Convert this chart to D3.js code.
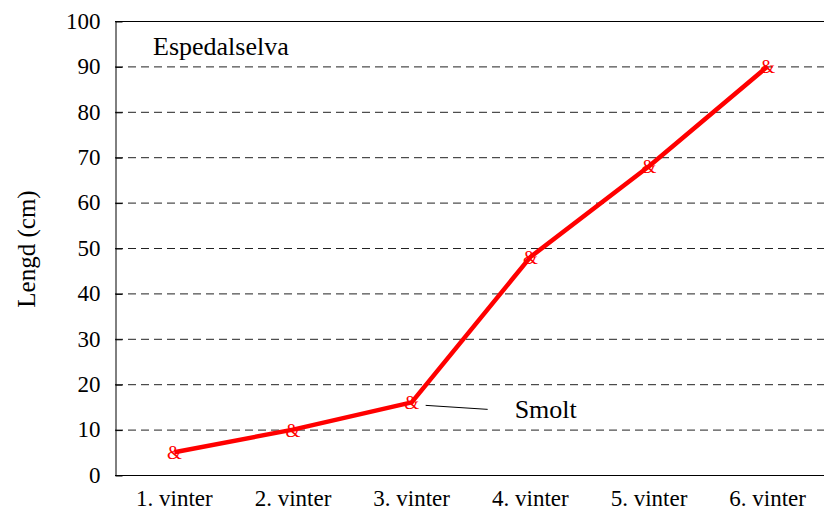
<!DOCTYPE html>
<meta charset="utf-8">
<style>
body { margin: 0; background: #fff; }
.grid line { stroke: #222; stroke-dasharray: 8,5; stroke-width: 1; }
.axis path, .axis line { stroke: #000; }
.axis text { font-size: 23px; }
</style>
<body>
<script src="https://cdnjs.cloudflare.com/ajax/libs/d3/7.8.5/d3.min.js"></script>
<script>
// data
const categories = ["1. vinter", "2. vinter", "3. vinter", "4. vinter", "5. vinter", "6. vinter"];
const lengths = [5, 10, 16, 48, 68, 90];
const yTicks = [0, 10, 20, 30, 40, 50, 60, 70, 80, 90, 100];

const SERIF = "'Liberation Serif', 'Times New Roman', Times, 'DejaVu Serif', serif";

const margin = {top: 21, right: 0, bottom: 35, left: 115},
      width = 824 - margin.left - margin.right,
      height = 510 - margin.top - margin.bottom;

const svg = d3.select("body").append("svg")
    .attr("width", 824)
    .attr("height", 510)
  .append("g")
    .attr("transform", "translate(" + margin.left + "," + margin.top + ")");

const x = d3.scaleBand()
    .domain(categories)
    .range([0, 712]);
const y = d3.scaleLinear()
    .domain([0, 100])
    .range([height, 0]);

// dashed gridlines
svg.append("g")
    .attr("class", "grid")
  .selectAll("line")
    .data(yTicks.filter(d => d > 0 && d < 100))
  .enter().append("line")
    .attr("x1", 0)
    .attr("x2", width)
    .attr("y1", d => y(d) + 0.5)
    .attr("y2", d => y(d) + 0.5);

// top border
svg.append("line")
    .attr("x1", 0).attr("x2", width)
    .attr("y1", y(100) + 0.5).attr("y2", y(100) + 0.5)
    .attr("stroke", "#000");

// y axis
const yAxis = svg.append("g")
    .attr("class", "axis")
    .attr("transform", "translate(0.5,0)")
    .call(d3.axisLeft(y).tickValues(yTicks).tickSizeInner(-7).tickSizeOuter(0).tickPadding(15));
yAxis.selectAll(".tick line").attr("transform", "translate(0,0.5)");

// x axis
const xAxis = svg.append("g")
    .attr("class", "axis")
    .attr("transform", "translate(0," + (height + 0.5) + ")")
    .call(d3.axisBottom(x).tickSize(0).tickPadding(14));
xAxis.select(".domain").attr("d", "M0,0H" + width);

// y axis title
svg.append("text")
    .attr("transform", "rotate(-90)")
    .attr("x", -(y(50) + 1))
    .attr("y", -80)
    .style("text-anchor", "middle")
    .style("font-size", "25px")
    .text("Lengd (cm)");

// chart title
svg.append("text")
    .attr("x", 38)
    .attr("y", 34)
    .style("font-size", "26px")
    .text("Espedalselva");

// line
const line = d3.line()
    .x((d, i) => x(categories[i]) + x.bandwidth() / 2)
    .y(d => y(d));

svg.append("path")
    .datum(lengths)
    .attr("fill", "none")
    .attr("stroke", "#ff0000")
    .attr("stroke-width", 4.5)
    .attr("stroke-linejoin", "round")
    .attr("d", line);

// markers
svg.selectAll(".marker")
    .data(lengths)
  .enter().append("text")
    .attr("class", "marker")
    .attr("x", (d, i) => x(categories[i]) + x.bandwidth() / 2)
    .attr("y", d => y(d) + 7)
    .style("text-anchor", "middle")
    .style("font-size", "19px")
    .style("fill", "#ff0000")
    .text("&");

// smolt annotation
const sx = x(categories[2]) + x.bandwidth() / 2,
      sy = y(lengths[2]);
svg.append("line")
    .attr("x1", sx + 14).attr("y1", sy + 3)
    .attr("x2", sx + 76).attr("y2", sy + 7)
    .attr("stroke", "#000")
    .attr("stroke-width", 1);
svg.append("text")
    .attr("x", sx + 103)
    .attr("y", sy + 16)
    .style("font-size", "26px")
    .text("Smolt");

// serif everywhere, overriding d3's axis font attribute
d3.selectAll("g[font-family]").attr("font-family", null);
d3.selectAll("text").style("font-family", SERIF);
d3.selectAll("text:not(.marker)").style("fill", "#000");
</script>
</body>
